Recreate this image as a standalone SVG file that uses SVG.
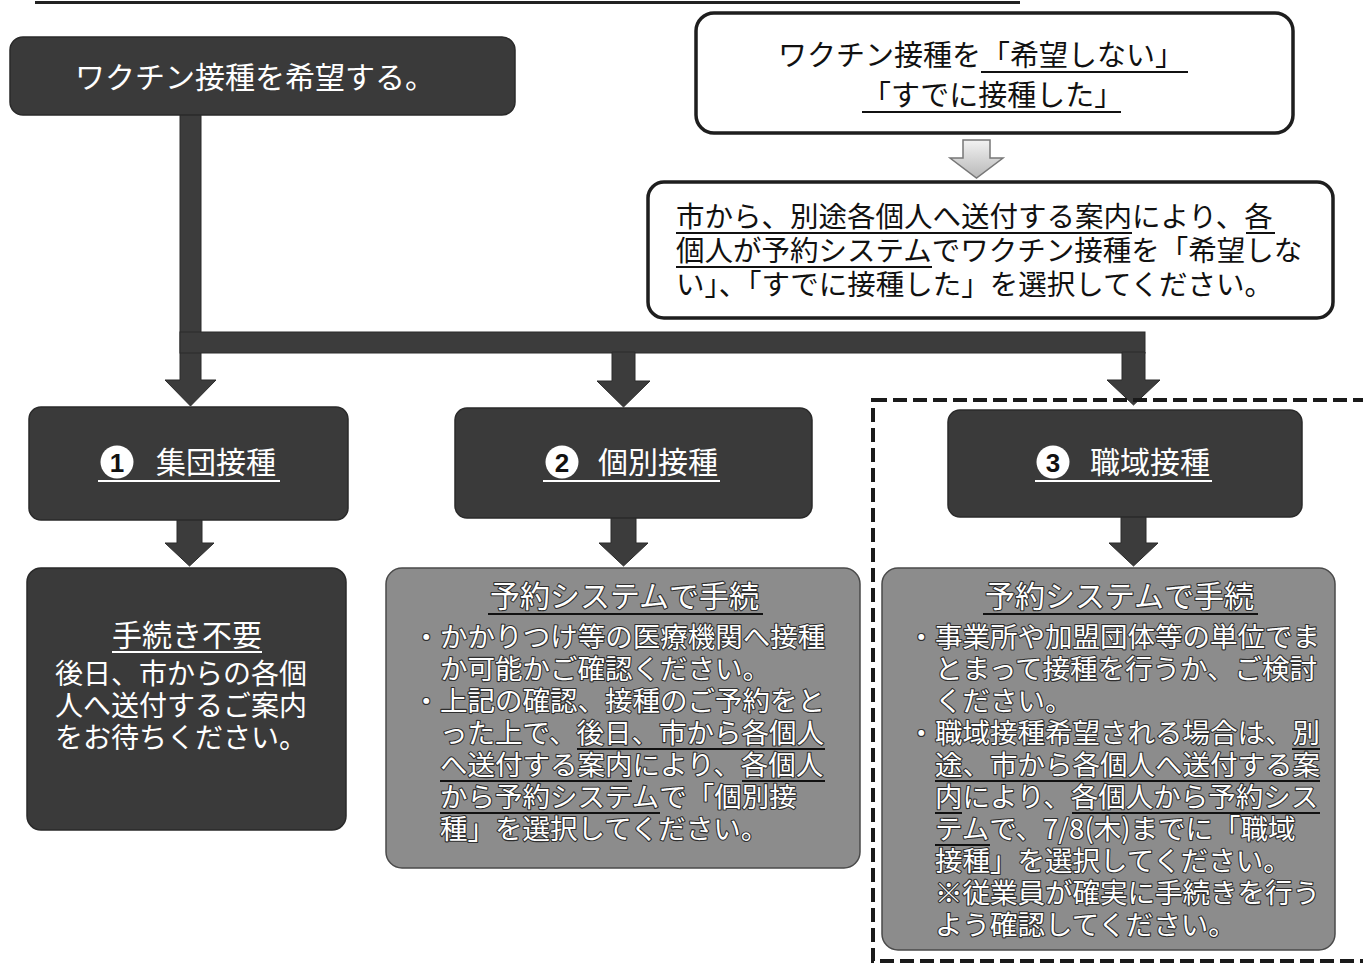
<svg xmlns="http://www.w3.org/2000/svg" width="1363" height="965" viewBox="0 0 1363 965">
<defs>
<style>
text{font-family:"Noto Sans CJK JP","Noto Sans CJK SC",sans-serif;}
.dark{fill:#3a3a3a;stroke:#2a2a2a;stroke-width:1.5;}
.gray{fill:#8c8c8c;stroke:#4a4a4a;stroke-width:1.5;}
.white{fill:#ffffff;stroke:#1e1e1e;stroke-width:3.5;}
.wt{fill:#ffffff;}
.bt{fill:#111111;}
.ot{fill:#ffffff;stroke:#2e2e2e;stroke-width:2.2;paint-order:stroke;stroke-linejoin:round;}
.arrow{fill:#3c3c3c;stroke:#2a2a2a;stroke-width:1;}
.ulw{stroke:#ffffff;stroke-width:2;}
.ulb{stroke:#111111;stroke-width:2;}
.num{font-family:"Liberation Sans",sans-serif;font-size:26px;font-weight:bold;fill:#111;}
</style>
<linearGradient id="hollow" x1="0" y1="0" x2="0" y2="1">
<stop offset="0" stop-color="#f2f2f2"/>
<stop offset="1" stop-color="#b8b8b8"/>
</linearGradient>
</defs>
<rect x="0" y="0" width="1363" height="965" fill="#ffffff"/>
<line x1="35" y1="2.5" x2="1020" y2="2.5" stroke="#222" stroke-width="3"/>

<g id="connectors">
<path class="arrow" d="M180,112 H201 V380 H216 L190.5,406 L165,380 H180 Z"/>
<rect class="arrow" x="180" y="332" width="965" height="21"/>
<path class="arrow" d="M612,352 H635 V381 H650 L623.5,407 L597,381 H612 Z"/>
<path class="arrow" d="M1122,352 H1145 V380 H1160 L1133.5,405 L1107,380 H1122 Z"/>
<path class="arrow" d="M177,518 H202 V543 H214 L189.5,566 L165,543 H177 Z"/>
<path class="arrow" d="M611,516 H636 V543 H648 L623.5,566 L599,543 H611 Z"/>
<path class="arrow" d="M1121,515 H1146 V543 H1158 L1133.5,566 L1109,543 H1121 Z"/>
<path d="M963,140 H990 V158 H1003 L976.5,178 L950,158 H963 Z" fill="url(#hollow)" stroke="#777" stroke-width="1.5"/>
</g>

<g id="node-want">
<rect class="dark" x="10" y="37" width="505" height="78" rx="13"/>
<text class="wt" x="75" y="88" font-size="30">ワクチン接種を希望する。</text>
</g>

<g id="node-notwant">
<rect class="white" x="696" y="13" width="597" height="120" rx="18"/>
<text class="bt" font-size="29"><tspan x="778" y="66">ワクチン接種を「希望しない」</tspan><tspan x="862" y="106">「すでに接種した」</tspan></text>
<line class="ulb" x1="981" y1="72" x2="1188" y2="72"/>
<line class="ulb" x1="862" y1="112" x2="1121" y2="112"/>
</g>

<g id="node-select">
<rect class="white" x="648" y="182" width="685" height="136" rx="16"/>
<text class="bt" font-size="28.5"><tspan x="676" y="227">市から、別途各個人へ送付する案内により、各</tspan><tspan x="676" y="261">個人が予約システムでワクチン接種を「希望しな</tspan><tspan x="676" y="295">い」、「すでに接種した」を選択してください。</tspan></text>
<line class="ulb" x1="676" y1="233" x2="1132" y2="233"/>
<line class="ulb" x1="1246" y1="233" x2="1275" y2="233"/>
<line class="ulb" x1="676" y1="267" x2="932" y2="267"/>
</g>

<g id="node-group">
<rect class="dark" x="29" y="407" width="319" height="113" rx="12"/>
<circle cx="117" cy="462" r="16.5" fill="#ffffff"/>
<text class="num" x="117" y="472" text-anchor="middle">1</text>
<text class="wt" x="156" y="473" font-size="30">集団接種</text>
<line class="ulw" x1="98" y1="481" x2="280" y2="481"/>
</g>

<g id="node-individual">
<rect class="dark" x="455" y="408" width="357" height="110" rx="12"/>
<circle cx="562" cy="462" r="16.5" fill="#ffffff"/>
<text class="num" x="562" y="472" text-anchor="middle">2</text>
<text class="wt" x="598" y="473" font-size="30">個別接種</text>
<line class="ulw" x1="543" y1="481" x2="720" y2="481"/>
</g>

<g id="node-workplace">
<rect class="dark" x="948" y="410" width="354" height="107" rx="12"/>
<circle cx="1053" cy="462" r="16.5" fill="#ffffff"/>
<text class="num" x="1053" y="472" text-anchor="middle">3</text>
<text class="wt" x="1090" y="473" font-size="30">職域接種</text>
<line class="ulw" x1="1035" y1="481" x2="1212" y2="481"/>
</g>

<g id="node-noprocedure">
<rect class="dark" x="27" y="568" width="319" height="262" rx="14"/>
<text class="wt" font-size="28"><tspan x="112" y="646" font-size="30">手続き不要</tspan><tspan x="55" y="684">後日、市からの各個</tspan><tspan x="55" y="716">人へ送付するご案内</tspan><tspan x="55" y="748">をお待ちください。</tspan></text>
<line class="ulw" x1="112" y1="652" x2="262" y2="652"/>
</g>

<g id="node-individual-detail">
<rect class="gray" x="386" y="568" width="474" height="300" rx="16"/>
<text class="ot" font-size="27.5"><tspan x="490" y="607" font-size="30">予約システムで手続</tspan><tspan x="412.5" y="647">・かかりつけ等の医療機関へ接種</tspan><tspan x="440" y="679">か可能かご確認ください。</tspan><tspan x="412.5" y="711">・上記の確認、接種のご予約をと</tspan><tspan x="440" y="743">った上で、後日、市から各個人</tspan><tspan x="440" y="775">へ送付する案内により、各個人</tspan><tspan x="440" y="807">から予約システムで「個別接</tspan><tspan x="440" y="839">種」を選択してください。</tspan></text>
<line class="ulb" x1="488" y1="614" x2="763" y2="614"/>
<line class="ulb" x1="577" y1="749" x2="825" y2="749"/>
<line class="ulb" x1="440" y1="781" x2="632" y2="781"/>
<line class="ulb" x1="742" y1="781" x2="825" y2="781"/>
<line class="ulb" x1="440" y1="813" x2="660" y2="813"/>
</g>

<g id="node-workplace-detail">
<rect x="873" y="400" width="500" height="561" fill="none" stroke="#1a1a1a" stroke-width="4" stroke-dasharray="14 6"/>
<rect class="gray" x="882" y="568" width="453" height="382" rx="16"/>
<text class="ot" font-size="27.5"><tspan x="985" y="607" font-size="30">予約システムで手続</tspan><tspan x="907.5" y="647">・事業所や加盟団体等の単位でま</tspan><tspan x="935" y="679">とまって接種を行うか、ご検討</tspan><tspan x="935" y="711">ください。</tspan><tspan x="907.5" y="743">・職域接種希望される場合は、別</tspan><tspan x="935" y="775">途、市から各個人へ送付する案</tspan><tspan x="935" y="807">内により、各個人から予約シス</tspan><tspan x="935" y="839">テムで、7/8(木)までに「職域</tspan><tspan x="935" y="871">接種」を選択してください。</tspan><tspan x="935" y="903">※従業員が確実に手続きを行う</tspan><tspan x="935" y="935">よう確認してください。</tspan></text>
<line class="ulb" x1="983" y1="614" x2="1258" y2="614"/>
<line class="ulb" x1="1292" y1="749" x2="1320" y2="749"/>
<line class="ulb" x1="935" y1="781" x2="1320" y2="781"/>
<line class="ulb" x1="935" y1="813" x2="962" y2="813"/>
<line class="ulb" x1="1072" y1="813" x2="1320" y2="813"/>
<line class="ulb" x1="935" y1="845" x2="990" y2="845"/>
</g>
</svg>
